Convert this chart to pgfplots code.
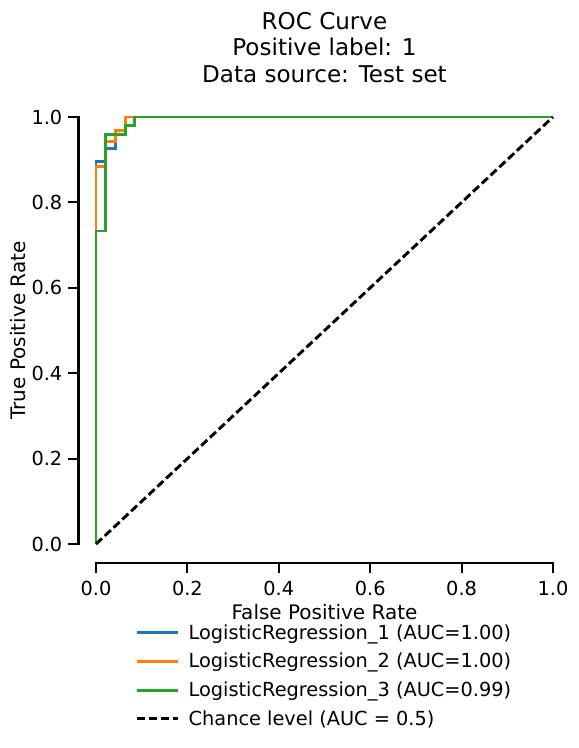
\documentclass[border=0pt]{standalone}
\usepackage{pgfplots}
\pgfplotsset{compat=1.18}
\usepackage{fontspec}
\setmainfont{DejaVu Sans}
\definecolor{tabblue}{HTML}{1F77B4}
\definecolor{taborange}{HTML}{FF7F0E}
\definecolor{tabgreen}{HTML}{2CA02C}
\begin{document}
\begin{tikzpicture}
\begin{axis}[
    scale only axis,
    width=342.75pt, height=320.25pt,
    xmin=0, xmax=1, ymin=0, ymax=1,
    clip=false,
    axis lines=left,
    axis line style={-, draw=none},
    axis x line shift=14.25pt,
    axis y line shift=13.25pt,
    xtick={0,0.2,...,1}, ytick={0,0.2,...,1},
    tick align=outside,
    major tick length=7.5pt,
    every tick/.style={line width=1.6pt, black},
    tick label style={font=\fontsize{14.5}{17}\selectfont},
    /pgf/number format/assume math mode=true,
    /pgf/number format/.cd, fixed, fixed zerofill, precision=1, /pgfplots/.cd,
    xticklabel style={yshift=-2.5pt},
    yticklabel style={xshift=-1pt},
    xlabel={False Positive Rate},
    ylabel={True Positive Rate},
    label style={font=\fontsize{15}{18}\selectfont},
    xlabel style={yshift=0.5pt},
    ylabel style={yshift=-2.75pt},
    title={ROC Curve\\Positive label: 1\\Data source: Test set},
    title style={font=\fontsize{17.3}{20}\selectfont, align=center, at={(0.5,1)}, anchor=south, yshift=19.5pt, inner sep=0pt},
    legend style={draw=none, fill=none, at={(0.5,-0.175)}, anchor=north,
        font=\fontsize{14.5}{17}\selectfont, row sep=5pt},
    legend cell align=left,
    legend image code/.code={\draw[#1] (0pt,0pt) -- (31pt,0pt); \path (36pt,0pt);},
]
% offset spines (seaborn despine style)
\draw[black, line width=2.2pt] ([xshift=-13.25pt,yshift=-0.8pt]axis cs:0,0) -- ([xshift=-13.25pt,yshift=0.8pt]axis cs:0,1);
\draw[black, line width=2.2pt] ([xshift=-0.8pt,yshift=-14.25pt]axis cs:0,0) -- ([xshift=0.8pt,yshift=-14.25pt]axis cs:1,0);
\addplot[tabblue, line width=2.2pt] coordinates {
    (0,0) (0,0.896) (0.021,0.896) (0.021,0.927) (0.043,0.927)
    (0.043,0.969) (0.064,0.969) (0.064,1) (1,1)};
\addplot[taborange, line width=2.2pt] coordinates {
    (0,0) (0,0.885) (0.021,0.885) (0.021,0.943) (0.043,0.943)
    (0.043,0.969) (0.064,0.969) (0.064,1) (1,1)};
\addplot[tabgreen, line width=2.2pt] coordinates {
    (0,0) (0,0.733) (0.021,0.733) (0.021,0.958) (0.064,0.958)
    (0.064,0.979) (0.085,0.979) (0.085,1) (1,1)};
\addplot[black, line width=2.2pt, dash pattern=on 6.2pt off 2.8pt] coordinates {(0,0) (1,1)};
\legend{LogisticRegression\_1 (AUC=1.00), LogisticRegression\_2 (AUC=1.00),
        LogisticRegression\_3 (AUC=0.99), Chance level (AUC = 0.5)}
\end{axis}
\path[use as bounding box] (-72pt,-153pt) rectangle (361.5pt,408pt);
\end{tikzpicture}
\end{document}
